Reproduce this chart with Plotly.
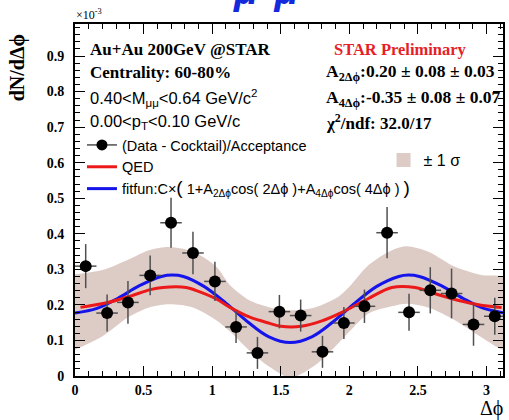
import plotly.graph_objects as go

# ---------------- data (values in units of 1e-3) ----------------
dphi = [0.078, 0.234, 0.386, 0.548, 0.700, 0.860, 1.020, 1.174, 1.330, 1.490,
        1.645, 1.804, 1.960, 2.110, 2.275, 2.435, 2.590, 2.745, 2.905, 3.060]
yield_vals = [0.309, 0.177, 0.207, 0.283, 0.431, 0.346, 0.266, 0.138, 0.065, 0.181,
              0.170, 0.068, 0.149, 0.196, 0.403, 0.179, 0.241, 0.232, 0.145, 0.168]
yield_err = [0.062, 0.052, 0.060, 0.056, 0.070, 0.060, 0.055, 0.045, 0.045, 0.047,
             0.045, 0.045, 0.045, 0.047, 0.072, 0.052, 0.065, 0.070, 0.060, 0.052]
bin_half = [0.0785] * 20

fit_x = [0.00, 0.16, 0.31, 0.47, 0.63, 0.71, 0.79, 0.94, 1.10, 1.26, 1.41, 1.57,
         1.73, 1.88, 2.04, 2.20, 2.36, 2.43, 2.51, 2.67, 2.83, 2.98, 3.14]
fit_y = [0.177, 0.190, 0.218, 0.254, 0.280, 0.284, 0.280, 0.252, 0.205, 0.152, 0.111, 0.094,
         0.111, 0.152, 0.205, 0.252, 0.280, 0.284, 0.280, 0.254, 0.218, 0.190, 0.177]

qed_x = [0.04, 0.23, 0.39, 0.55, 0.64, 0.81, 0.88, 1.03, 1.13, 1.27, 1.42, 1.50,
         1.65, 1.80, 1.95, 2.07, 2.14, 2.31, 2.48, 2.62, 2.79, 2.96, 3.11]
qed_y = [0.193, 0.206, 0.223, 0.243, 0.249, 0.249, 0.241, 0.217, 0.193, 0.166, 0.148, 0.140,
         0.140, 0.155, 0.180, 0.204, 0.218, 0.249, 0.249, 0.232, 0.213, 0.199, 0.193]

band_x = [0.00, 0.20, 0.39, 0.54, 0.69, 0.86, 1.03, 1.13, 1.27, 1.42, 1.57,
          1.75, 1.92, 2.00, 2.14, 2.31, 2.42, 2.58, 2.77, 2.96, 3.14]
band_hi = [0.286, 0.298, 0.328, 0.354, 0.363, 0.350, 0.307, 0.255, 0.213, 0.193, 0.185,
           0.193, 0.223, 0.251, 0.312, 0.354, 0.365, 0.349, 0.307, 0.284, 0.274]
band_lo = [0.074, 0.112, 0.166, 0.193, 0.202, 0.193, 0.157, 0.125, 0.072, 0.025, -0.005,
           0.030, 0.092, 0.125, 0.176, 0.196, 0.203, 0.192, 0.157, 0.110, 0.075]

x_ticks = [0, 0.5, 1, 1.5, 2, 2.5, 3]
x_ticktext = ["0", "0.5", "1", "1.5", "2", "2.5", "3"]
y_ticks = [0, 0.1, 0.2, 0.3, 0.4, 0.5, 0.6, 0.7, 0.8, 0.9]
y_ticktext = ["0", "0.1", "0.2", "0.3", "0.4", "0.5", "0.6", "0.7", "0.8", "0.9"]

# ---------------- geometry helpers ----------------
W, H = 509, 420
L, R, T, B = 75, 4, 24, 44
PW, PH = W - L - R, H - T - B


def px(x):
    return (x - L) / PW


def py(y):
    return (H - B - y) / PH


SERIF = "Liberation Serif"
SANS = "Liberation Sans"
BAND = "rgb(221,203,198)"
BLUE = "rgb(20,20,235)"
RED = "rgb(235,25,25)"

fig = go.Figure()

fig.add_trace(go.Scatter(
    x=band_x + band_x[::-1], y=band_hi + band_lo[::-1],
    fill="toself", fillcolor=BAND, line=dict(width=0, shape="spline", smoothing=0.8),
    mode="lines", showlegend=False, hoverinfo="skip"))

fig.add_trace(go.Scatter(
    x=fit_x, y=fit_y, mode="lines", line=dict(color=BLUE, width=3, shape="spline"),
    name="fitfun:C×<span style='font-size:19px'>(</span> 1+A<sub>2Δϕ</sub>cos( 2Δϕ )+A<sub>4Δϕ</sub>cos( 4Δϕ ) <span style='font-size:19px'>)</span>",
    legendrank=3))

fig.add_trace(go.Scatter(
    x=qed_x, y=qed_y, mode="lines", line=dict(color=RED, width=3, shape="spline"),
    name="QED", legendrank=2))

fig.add_trace(go.Scatter(
    x=dphi, y=yield_vals, mode="markers",
    marker=dict(color="black", size=12),
    error_y=dict(type="data", array=yield_err, color="rgb(80,80,80)", thickness=1.5, width=0),
    error_x=dict(type="data", array=bin_half, color="rgb(80,80,80)", thickness=1.5, width=0),
    showlegend=False))

# legend-only entries
fig.add_trace(go.Scatter(
    x=[None], y=[None], mode="lines+markers",
    line=dict(color="rgb(80,80,80)", width=1.5),
    marker=dict(color="black", size=11),
    name="(Data - Cocktail)/Acceptance", legendrank=1))

fig.add_trace(go.Scatter(
    x=[None], y=[None], mode="markers",
    marker=dict(color=BAND, size=14, symbol="square"),
    name="± 1 σ", legend="legend2"))

axis_common = dict(
    showline=True, linecolor="black", linewidth=2, mirror="ticks",
    ticks="inside", ticklen=10, tickwidth=1.2, tickcolor="black",
    showgrid=False, zeroline=False,
    tickfont=dict(family=SERIF, size=14, color="black", weight="bold"),
)

fig.update_xaxes(range=[0, 3.12], tickvals=x_ticks, ticktext=x_ticktext,
                 minor=dict(ticks="inside", ticklen=5, dtick=0.1, tickcolor="black", tickwidth=1),
                 **axis_common)
fig.update_yaxes(range=[0, 0.99], tickvals=y_ticks, ticktext=y_ticktext,
                 ticklabelstandoff=6,
                 minor=dict(ticks="inside", ticklen=5, dtick=0.02, tickcolor="black", tickwidth=1),
                 **axis_common)

ann = []


def add_text(x, y, text, size, family=SERIF, color="black", bold=True, xanchor="left", **kw):
    ann.append(dict(x=px(x), y=py(y), xref="paper", yref="paper", text=text,
                    showarrow=False, xanchor=xanchor, yanchor="middle",
                    font=dict(family=family, size=size, color=color,
                              weight="bold" if bold else "normal"), **kw))


add_text(88, 49, "Au+Au 200GeV @STAR", 17)
add_text(88, 73, "Centrality: 60-80%", 17)
add_text(88, 98, "0.40&lt;M<sub>μμ</sub>&lt;0.64 GeV/c<sup>2</sup>", 16.5, family=SANS, bold=False)
add_text(88, 122, "0.00&lt;p<sub>T</sub>&lt;0.10 GeV/c", 16.5, family=SANS, bold=False)
add_text(333, 49, "STAR Preliminary", 16.5, color="rgb(230,30,40)")
add_text(325, 73, "A<sub>2Δϕ</sub>:0.20 &#177; 0.08 &#177; 0.03", 17.5)
add_text(325, 98, "A<sub>4Δϕ</sub>:-0.35 &#177; 0.08 &#177; 0.07", 17.5)
add_text(325, 122, "χ<sup>2</sup>/ndf: 32.0/17", 17)
add_text(74, 14, "×10<sup>-3</sup>", 12, bold=False)
add_text(17, 68, "dN/dΔϕ", 20, xanchor="center", textangle=-90)
add_text(493, 408, "Δϕ", 20, xanchor="center", bold=False, borderpad=0)
ann.append(dict(x=px(275), y=py(14), xref="paper", yref="paper", yanchor="bottom",
                xanchor="center", showarrow=False,
                text="<i>μ<sup>+</sup>μ<sup>−</sup></i>",
                font=dict(family=SANS, size=40, color="rgb(20,40,220)", weight="bold")))

fig.update_layout(
    width=W, height=H,
    margin=dict(l=L, r=R, t=T, b=B),
    paper_bgcolor="white", plot_bgcolor="white",
    annotations=ann,
    legend=dict(x=px(82), y=py(129), xanchor="left", yanchor="top",
                bgcolor="rgba(0,0,0,0)", font=dict(family=SANS, size=14.5, color="black"),
                tracegroupgap=0, itemwidth=30),
    legend2=dict(x=px(385), y=py(143), xanchor="left", yanchor="top",
                 bgcolor="rgba(0,0,0,0)", font=dict(family=SANS, size=16, color="black"),
                 itemwidth=30),
)

fig.write_html("out.html")
